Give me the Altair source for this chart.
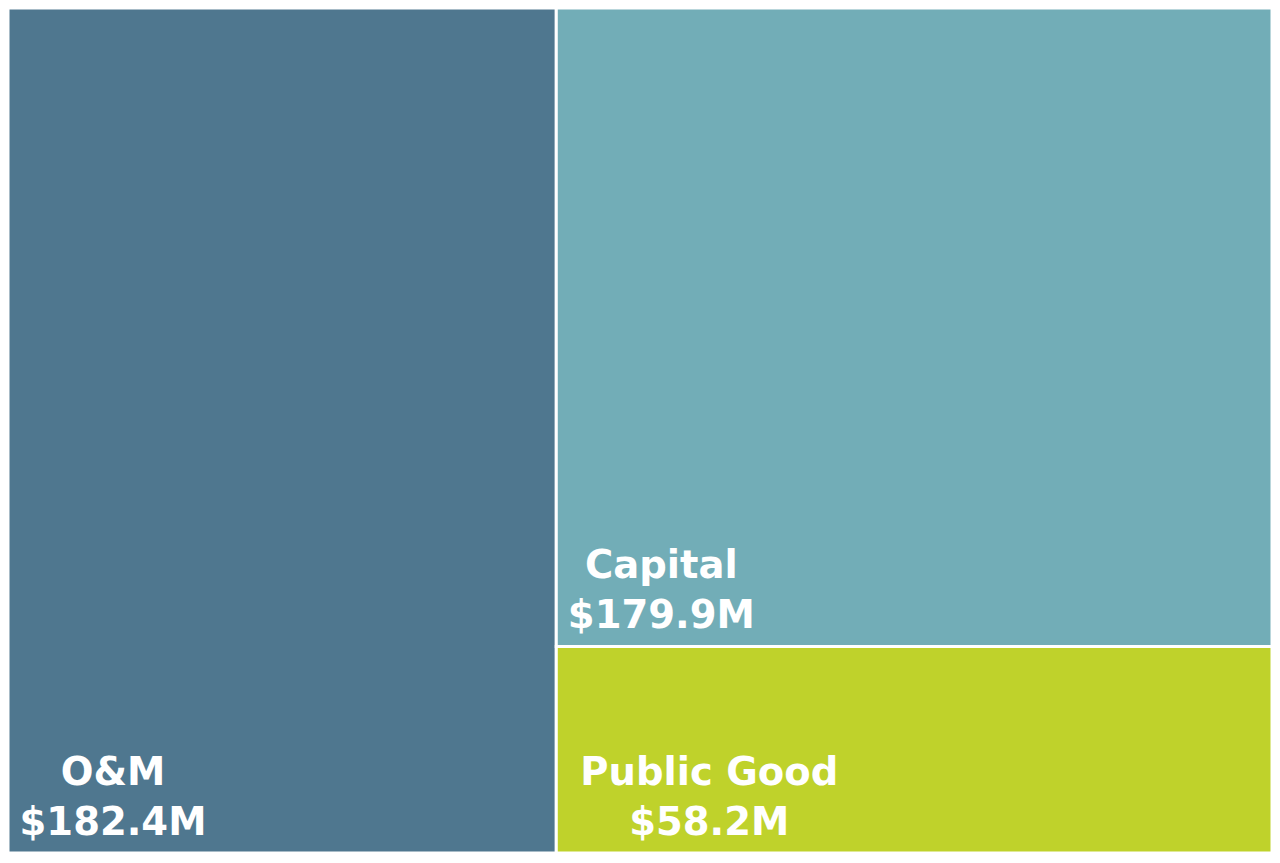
import altair as alt
import pandas as pd

categories = ["O&M", "Capital", "Public Good"]
amounts = [182.4, 179.9, 58.2]
colors = ["#4f778f", "#72adb7", "#bfd22b"]

total = sum(amounts)
right_total = sum(amounts[1:])

rows = []
# first category takes the whole left column
rows.append(dict(cat=categories[0], val=amounts[0], x0=0.0, x1=amounts[0], y0=0.0, y1=1.0))
# remaining categories stacked top-down in the right column
top = 1.0
for c, v in zip(categories[1:], amounts[1:]):
    h = v / right_total
    rows.append(dict(cat=c, val=v, x0=amounts[0], x1=total, y0=top - h, y1=top))
    top -= h

df = pd.DataFrame(rows)
df["amt"] = df["val"].map(lambda v: f"${v:.1f}M")

xs = alt.Scale(domain=[0, total], nice=False, zero=True)
ys = alt.Scale(domain=[0, 1], nice=False, zero=True)

base = alt.Chart(df)

rects = base.mark_rect(stroke="white", strokeWidth=3).encode(
    x=alt.X("x0:Q", scale=xs, axis=None),
    x2="x1:Q",
    y=alt.Y("y0:Q", scale=ys, axis=None),
    y2="y1:Q",
    color=alt.Color("cat:N", scale=alt.Scale(domain=categories, range=colors), legend=None),
)

text_style = dict(
    align="center", baseline="alphabetic",
    font="DejaVu Sans", fontWeight="bold", fontSize=38.5, color="white",
)


def label_layer(filt, field, dx, dy):
    return base.transform_filter(filt).mark_text(dx=dx, dy=dy, **text_style).encode(
        x=alt.X("x0:Q", scale=xs, axis=None),
        y=alt.Y("y0:Q", scale=ys, axis=None),
        text=f"{field}:N",
    )


grp_a = alt.datum.cat != "Public Good"
grp_b = alt.datum.cat == "Public Good"

layers = [
    rects,
    label_layer(grp_a, "cat", 105, -68),
    label_layer(grp_a, "amt", 105, -18),
    label_layer(grp_b, "cat", 153, -68),
    label_layer(grp_b, "amt", 153, -18),
]

chart = alt.layer(*layers).properties(
    width=1264, height=845,
    autosize=alt.AutoSizeParams(type="none"),
    padding=0,
    background="white",
).configure_view(stroke=None)

chart.save("out.html", embed_options={"renderer": "svg", "actions": False})
